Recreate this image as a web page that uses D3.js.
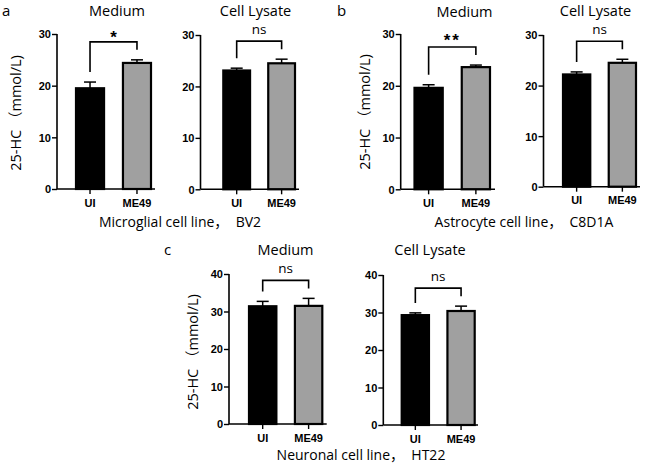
<!DOCTYPE html>
<html>
<head>
<meta charset="utf-8">
<script src="https://cdn.jsdelivr.net/npm/d3@7"></script>
<style>
  html, body { margin: 0; padding: 0; background: #fff; }
  svg { display: block; }
  .tick text { font-family: "Liberation Sans", Arial, sans-serif; font-weight: bold; font-size: 11px; fill: #000; }
  .title, .group, .ylab, .ns { font-family: "Open Sans", "Noto Sans CJK SC", sans-serif; fill: #000; white-space: pre; }
</style>
</head>
<body>
<svg id="chart" width="654" height="465"></svg>
<script>
// ---------- data ----------
const categories = ["UI", "ME49"];
const titles = ["Medium", "Cell Lysate"];
const groupLabels = ["Microglial cell line，  BV2", "Astrocyte cell line，  C8D1A", "Neuronal cell line，  HT22"];
const panelLetters = ["a", "b", "c"];
const yLabel = "25-HC （mmol/L)";

const ticksAB = [0, 10, 20, 30];
const ticksC = [0, 10, 20, 30, 40];

const meanA_medium = [19.5, 24.4];
const errA_medium  = [1.2, 0.6];
const meanA_lysate = [23.1, 24.5];
const errA_lysate  = [0.45, 0.8];
const meanB_medium = [19.6, 23.6];
const errB_medium  = [0.6, 0.4];
const meanB_lysate = [22.2, 24.5];
const errB_lysate  = [0.5, 0.7];
const meanC_medium = [31.4, 31.5];
const errC_medium  = [1.3, 2.0];
const meanC_lysate = [29.3, 30.4];
const errC_lysate  = [0.6, 1.3];

const sigLabels = ["*", "ns", "**", "ns", "ns", "ns"];

// ---------- layout ----------
const panels = [
  { mean: meanA_medium, err: errA_medium, ticks: ticksAB, sig: sigLabels[0], title: titles[0],
    axisX: 57, endX: 155, y0: 189, yTop: 34, bars: [75, 152], titleX: 117, titleY: 15.5 },
  { mean: meanA_lysate, err: errA_lysate, ticks: ticksAB, sig: sigLabels[1], title: titles[1],
    axisX: 200.5, endX: 299, y0: 189.3, yTop: 35, bars: [222.3, 296], titleX: 255.5, titleY: 15.5 },
  { mean: meanB_medium, err: errB_medium, ticks: ticksAB, sig: sigLabels[2], title: titles[0],
    axisX: 400.7, endX: 495, y0: 189.3, yTop: 34, bars: [413.5, 491], titleX: 464.5, titleY: 17 },
  { mean: meanB_lysate, err: errB_lysate, ticks: ticksAB, sig: sigLabels[3], title: titles[1],
    axisX: 543.5, endX: 640, y0: 186.7, yTop: 35, bars: [562, 637], titleX: 595.5, titleY: 16 },
  { mean: meanC_medium, err: errC_medium, ticks: ticksC, sig: sigLabels[4], title: titles[0],
    axisX: 229, endX: 326.7, y0: 424, yTop: 274, bars: [248, 323.3], titleX: 285.5, titleY: 255 },
  { mean: meanC_lysate, err: errC_lysate, ticks: ticksC, sig: sigLabels[5], title: titles[1],
    axisX: 383.3, endX: 478, y0: 425, yTop: 275, bars: [400.7, 475.7], titleX: 430, titleY: 255 }
];
const fills = ["#000000", "#a0a0a0"];

const svg = d3.select("#chart");

panels.forEach(p => {
  const g = svg.append("g");
  const yMax = d3.max(p.ticks);
  const y = d3.scaleLinear().domain([0, yMax]).range([p.y0, p.yTop]);
  const x = d3.scaleBand().domain(categories).range(p.bars).paddingInner(0.36).paddingOuter(0);

  // y axis
  const yAxis = d3.axisLeft(y).tickValues(p.ticks).tickSize(5).tickPadding(1).tickSizeOuter(0);
  const ya = g.append("g").attr("transform", `translate(${p.axisX},0)`).call(yAxis);
  ya.select(".domain").attr("stroke", "#000").attr("stroke-width", 1.6)
    .attr("d", `M0,${p.y0}V${p.yTop}`);
  ya.selectAll(".tick line").attr("stroke", "#000").attr("stroke-width", 1.4);
  ya.selectAll(".tick text").attr("dy", "0.36em");

  // bars
  g.selectAll("rect.bar").data(categories).join("rect")
    .attr("class", "bar")
    .attr("x", d => x(d) + 1)
    .attr("width", x.bandwidth() - 2)
    .attr("y", (d, i) => y(p.mean[i]))
    .attr("height", (d, i) => p.y0 - y(p.mean[i]))
    .attr("fill", (d, i) => fills[i])
    .attr("stroke", "#000")
    .attr("stroke-width", 2.2);

  // error bars (upper)
  categories.forEach((c, i) => {
    const cx = x(c) + x.bandwidth() / 2;
    const yt = y(p.mean[i] + p.err[i]);
    g.append("line").attr("x1", cx).attr("x2", cx).attr("y1", y(p.mean[i])).attr("y2", yt)
      .attr("stroke", "#000").attr("stroke-width", 1.5);
    g.append("line").attr("x1", cx - 6).attr("x2", cx + 6).attr("y1", yt).attr("y2", yt)
      .attr("stroke", "#000").attr("stroke-width", 1.5);
  });

  // x axis
  const xa = g.append("g").attr("transform", `translate(0,${p.y0})`)
    .call(d3.axisBottom(x).tickSize(5).tickPadding(5).tickSizeOuter(0));
  xa.select(".domain").attr("stroke", "#000").attr("stroke-width", 1.6)
    .attr("d", `M${p.axisX},0H${p.endX}`);
  xa.selectAll(".tick line").attr("stroke", "#000").attr("stroke-width", 1.4);

  // significance bracket
  const tops = categories.map((c, i) => y(p.mean[i] + p.err[i]));
  const bY = d3.min(tops) - 18;
  const cxs = categories.map(c => x(c) + x.bandwidth() / 2);
  g.append("path")
    .attr("d", `M${cxs[0]},${tops[0] - 10}V${bY}H${cxs[1]}V${tops[1] - 10}`)
    .attr("fill", "none").attr("stroke", "#000").attr("stroke-width", 1.6);
  const midX = (cxs[0] + cxs[1]) / 2;
  if (p.sig === "ns") {
    g.append("text").attr("class", "ns").attr("x", midX).attr("y", bY - 7.5)
      .attr("text-anchor", "middle").attr("font-size", 13.5).text(p.sig);
  } else {
    g.append("text").attr("x", midX).attr("y", bY + 1 + (p.sig.length > 1 ? -2 : 0))
      .attr("text-anchor", "middle")
      .attr("font-family", "'Liberation Sans', Arial, sans-serif")
      .attr("font-weight", "bold").attr("font-size", 17)
      .attr("letter-spacing", p.sig.length > 1 ? 2 : 0)
      .text(p.sig);
  }

  // title
  g.append("text").attr("class", "title")
    .attr("x", p.titleX).attr("y", p.titleY)
    .attr("text-anchor", "middle").attr("font-size", 14.5).text(p.title);
});

// panel letters
const letterPos = [[2, 16], [337, 16], [164, 255]];
panelLetters.forEach((l, i) => {
  svg.append("text").attr("class", "title").attr("x", letterPos[i][0]).attr("y", letterPos[i][1])
    .attr("font-size", 15).text(l);
});

// group labels
const groupPos = [[180, 227], [524, 227], [361, 460]];
groupLabels.forEach((t, i) => {
  svg.append("text").attr("class", "group").attr("x", groupPos[i][0]).attr("y", groupPos[i][1])
    .attr("text-anchor", "middle").attr("font-size", 14).text(t);
});

// y labels
const yLabPos = [[21, 113], [370, 112], [198, 352]];
yLabPos.forEach(pos => {
  svg.append("text").attr("class", "ylab")
    .attr("transform", `translate(${pos[0]},${pos[1]}) rotate(-90)`)
    .attr("text-anchor", "middle").attr("font-size", 14.5).text(yLabel);
});
</script>
</body>
</html>
